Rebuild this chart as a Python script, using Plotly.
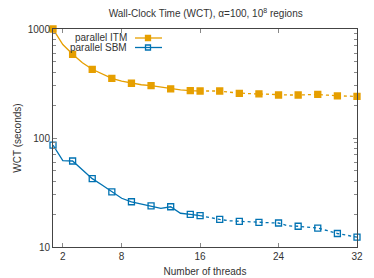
import plotly.graph_objects as go

threads = list(range(1, 33))
itm = [1000, 720, 586, 490, 427, 385, 353, 333, 318, 308, 302, 292, 282, 276, 272, 270,
       270, 270, 263, 257, 255, 254, 251, 248, 248, 248, 249, 251, 247, 243, 242, 241]
sbm = [86, 62, 61.5, 51, 42.4, 37, 32, 28, 26, 24.9, 23.8, 22.6, 23.4, 20.4, 19.9, 19.4,
       18.6, 17.9, 17.4, 17.2, 16.9, 16.8, 16.7, 16.6, 15.6, 15.5, 15.2, 14.9, 14.1, 13.3, 12.8, 12.3]
series = [("parallel ITM", itm, "#E69F00", "square"), ("parallel SBM", sbm, "#0072B2", "square-open")]
xticks = [2, 8, 16, 24, 32]
yticks = [10, 100, 1000]
split = 16  # solid up to 16 threads, dotted after

fig = go.Figure()
for name, vals, col, sym in series:
    i_s = [i for i, t in enumerate(threads) if t <= split]
    i_d = [i for i, t in enumerate(threads) if t >= split]
    fig.add_trace(go.Scatter(x=[threads[i] for i in i_s], y=[vals[i] for i in i_s], mode="lines",
                             line=dict(color=col, width=1.3), showlegend=False, hoverinfo="skip"))
    fig.add_trace(go.Scatter(x=[threads[i] for i in i_d], y=[vals[i] for i in i_d], mode="lines",
                             line=dict(color=col, width=1.3, dash="dot"), showlegend=False, hoverinfo="skip"))
    mk = [i for i, t in enumerate(threads) if (t <= split and (t % 2 == 1 or t == split)) or (t > split and t % 2 == 0)]
    fig.add_trace(go.Scatter(x=[threads[i] for i in mk], y=[vals[i] for i in mk], mode="markers",
                             marker=dict(symbol=sym, size=6, color=col, line=dict(color=col, width=1.3)),
                             name=name, showlegend=False, cliponaxis=False))

# gnuplot-style key: text on the left, sample on the right
shapes, annos = [], []
for k, (name, vals, col, sym) in enumerate(series):
    ypx = 38 + k * 9.5
    yp = 1 - (ypx - 29) / 218
    x0 = (135 - 53) / 304; x1 = (162 - 53) / 304; xm = (148 - 53) / 304
    annos.append(dict(x=(129 - 53) / 304, y=yp, xref="paper", yref="paper", text=name, showarrow=False,
                      xanchor="right", yanchor="middle", font=dict(size=10, color="#333")))
    shapes.append(dict(type="line", x0=x0, x1=x1, y0=yp, y1=yp, xref="paper", yref="paper",
                       line=dict(color=col, width=1.3)))
    h = 2.5 / 304; v = 2.5 / 218
    shapes.append(dict(type="rect", x0=xm - h, x1=xm + h, y0=yp - v, y1=yp + v, xref="paper", yref="paper",
                       line=dict(color=col, width=1.3),
                       fillcolor=col if sym == "square" else "rgba(0,0,0,0)"))

fig.update_layout(
    width=374, height=278, margin=dict(l=53, r=17, t=29, b=31, autoexpand=False),
    paper_bgcolor="white", plot_bgcolor="white",
    font=dict(family="Liberation Sans, Arial, sans-serif", size=10, color="#333"),
    title=dict(text="Wall-Clock Time (WCT), α=100, 10<sup>8</sup> regions", x=0.55, xanchor="center",
               y=0.95, yanchor="middle", font=dict(size=10, color="#333")),
    shapes=shapes, annotations=annos,
    xaxis=dict(range=[1, 32], tickvals=xticks, ticks="inside", ticklen=4, tickcolor="#888", automargin=False,
               showline=True, linecolor="#444", linewidth=1, mirror="ticks", showgrid=False, zeroline=False,
               title=dict(text="Number of threads", standoff=6, font=dict(size=10)), tickfont=dict(size=10)),
    yaxis=dict(type="log", range=[1, 3], tickvals=yticks, ticks="inside", ticklen=4, tickcolor="#888", automargin=False,
               showline=True, linecolor="#444", linewidth=1, mirror="ticks", showgrid=False, zeroline=False,
               minor=dict(ticks="inside", ticklen=3, tickcolor="#888",
                          tickvals=[20, 30, 40, 50, 60, 70, 80, 90, 200, 300, 400, 500, 600, 700, 800, 900]),
               title=dict(text="WCT (seconds)", standoff=4, font=dict(size=10)), tickfont=dict(size=10)),
)
fig.write_html("out.html", config={"displayModeBar": False})
with open("out.html", encoding="utf-8") as f:
    html = f.read()
html = html.replace("<head>", "<head><style>html,body{margin:0;padding:0;overflow:hidden}</style>", 1)
with open("out.html", "w", encoding="utf-8") as f:
    f.write(html)
